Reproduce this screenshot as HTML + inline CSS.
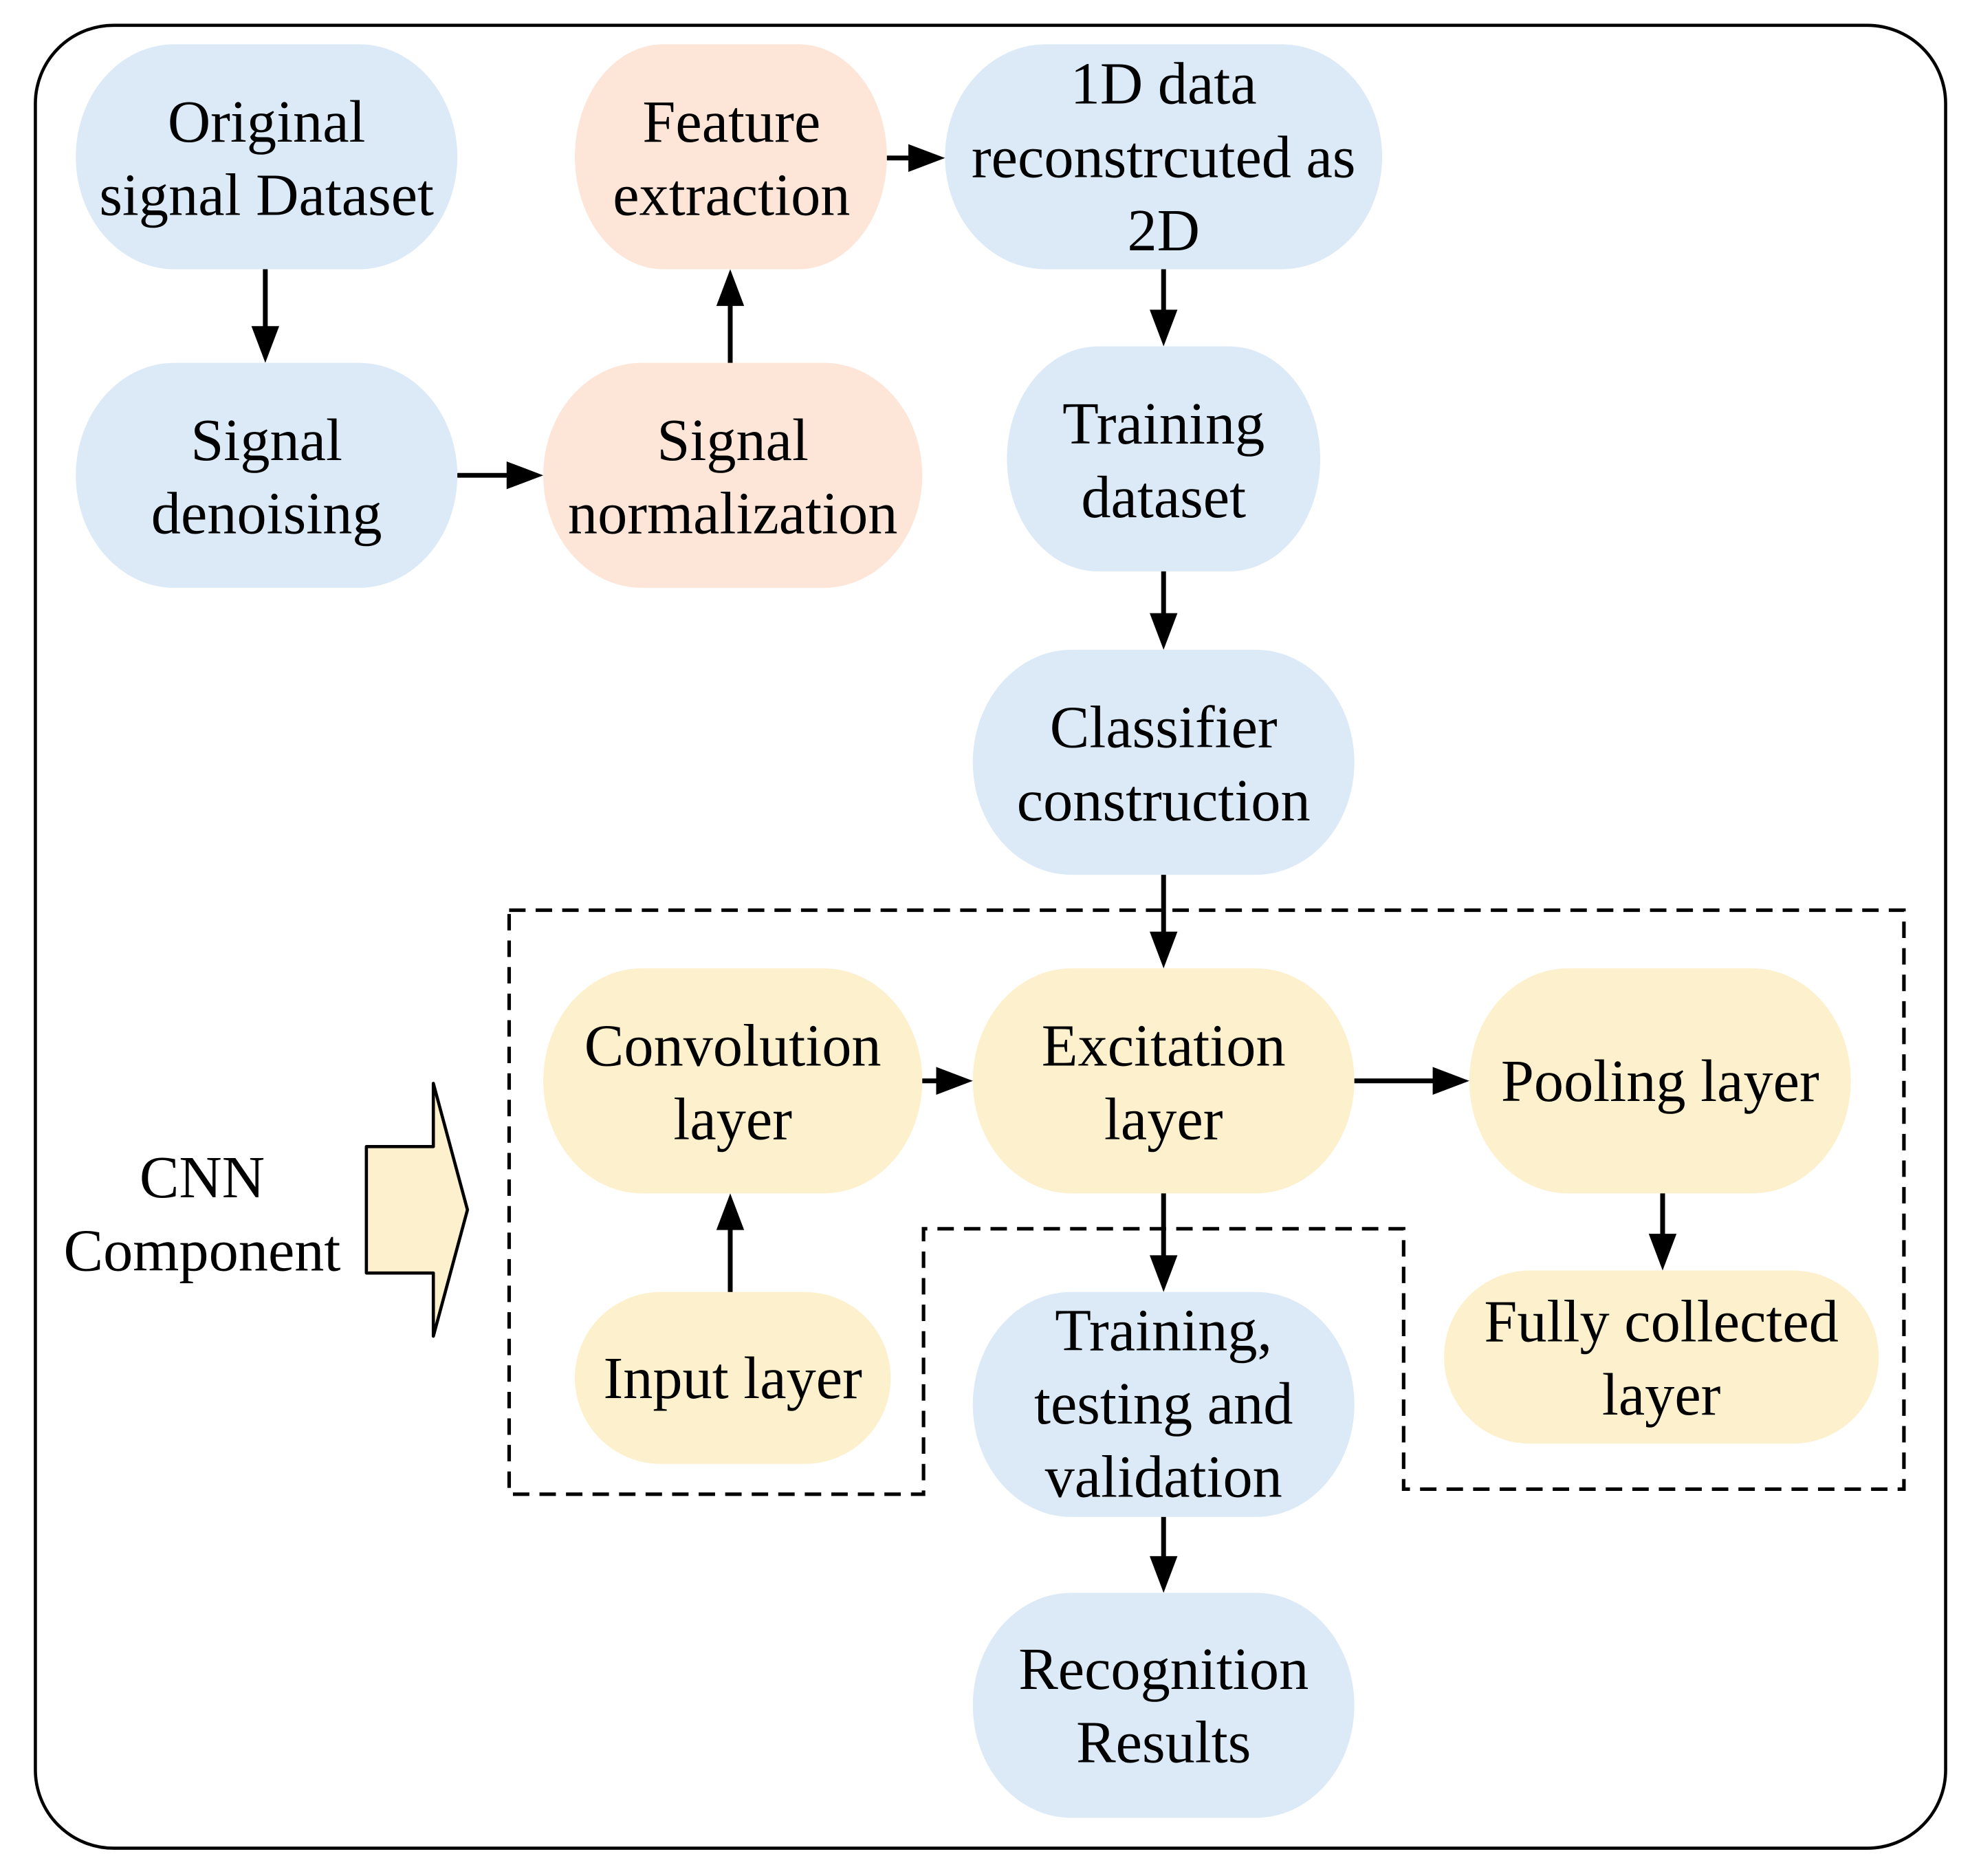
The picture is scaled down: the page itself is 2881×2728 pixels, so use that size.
<!DOCTYPE html>
<html><head><meta charset="utf-8"><style>
html,body{margin:0;padding:0;background:#fff;}
svg{display:block;}
text{font-family:"Liberation Serif",serif;font-size:47px;fill:#000;text-anchor:middle;}
</style></head><body>
<svg width="2881" height="2728" viewBox="0 0 1568 1484" preserveAspectRatio="none" xmlns="http://www.w3.org/2000/svg">
<rect x="28" y="20" width="1512" height="1442" rx="62" ry="62" fill="#fff" stroke="#000" stroke-width="2.5"/>

<path d="M403,720 H1507 V1178 H1111 V972 H731 V1182 H403 Z" fill="none" stroke="#000" stroke-width="2.8" stroke-dasharray="13,8"/>

<g>
<rect x="60" y="35" width="302" height="178" rx="78" ry="89" fill="#dbeaf6"/>
<rect x="60" y="287" width="302" height="178" rx="78" ry="89" fill="#dbeaf6"/>
<rect x="455" y="35" width="247" height="178" rx="70" ry="89" fill="#fde5d8"/>
<rect x="430" y="287" width="300" height="178" rx="78" ry="89" fill="#fde5d8"/>
<rect x="748" y="35" width="346" height="178" rx="80" ry="89" fill="#dbeaf6"/>
<rect x="797" y="274" width="248" height="178" rx="72" ry="89" fill="#dbeaf6"/>
<rect x="770" y="514" width="302" height="178" rx="78" ry="89" fill="#dbeaf6"/>
<rect x="430" y="766" width="300" height="178" rx="78" ry="89" fill="#fdf0cc"/>
<rect x="770" y="766" width="302" height="178" rx="78" ry="89" fill="#fdf0cc"/>
<rect x="1163" y="766" width="302" height="178" rx="78" ry="89" fill="#fdf0cc"/>
<rect x="455" y="1022" width="250" height="136" rx="68" ry="68" fill="#fdf0cc"/>
<rect x="770" y="1022" width="302" height="178" rx="78" ry="89" fill="#dbeaf6"/>
<rect x="1143" y="1005" width="344" height="137" rx="68" ry="68" fill="#fdf0cc"/>
<rect x="770" y="1260" width="302" height="178" rx="78" ry="89" fill="#dbeaf6"/>
</g>

<g stroke="#000" stroke-width="3.8" fill="#000">
<line x1="210" y1="213" x2="210" y2="262"/><polygon points="199,258 221,258 210,287" stroke="none"/>
<line x1="362" y1="376" x2="405" y2="376"/><polygon points="401,365 401,387 430,376" stroke="none"/>
<line x1="578" y1="287" x2="578" y2="238"/><polygon points="567,242 589,242 578,213" stroke="none"/>
<line x1="702" y1="125" x2="723" y2="125"/><polygon points="719,114 719,136 748,125" stroke="none"/>
<line x1="921" y1="213" x2="921" y2="249"/><polygon points="910,245 932,245 921,274" stroke="none"/>
<line x1="921" y1="452" x2="921" y2="489"/><polygon points="910,485 932,485 921,514" stroke="none"/>
<line x1="921" y1="692" x2="921" y2="741"/><polygon points="910,737 932,737 921,766" stroke="none"/>
<line x1="730" y1="855" x2="745" y2="855"/><polygon points="741,844 741,866 770,855" stroke="none"/>
<line x1="1072" y1="855" x2="1138" y2="855"/><polygon points="1134,844 1134,866 1163,855" stroke="none"/>
<line x1="921" y1="944" x2="921" y2="997"/><polygon points="910,993 932,993 921,1022" stroke="none"/>
<line x1="578" y1="1022" x2="578" y2="969"/><polygon points="567,973 589,973 578,944" stroke="none"/>
<line x1="1316" y1="944" x2="1316" y2="980"/><polygon points="1305,976 1327,976 1316,1005" stroke="none"/>
<line x1="921" y1="1200" x2="921" y2="1235"/><polygon points="910,1231 932,1231 921,1260" stroke="none"/>
</g>

<polygon points="290,907 343,907 343,857 370,957 343,1057 343,1007 290,1007" fill="#fdf0cc" stroke="#000" stroke-width="2.5" stroke-linejoin="round"/>

<text x="211" y="112">Original</text>
<text x="211" y="170">signal Dataset</text>
<text x="211" y="364">Signal</text>
<text x="211" y="422">denoising</text>
<text x="579" y="112">Feature</text>
<text x="579" y="170">extraction</text>
<text x="580" y="364">Signal</text>
<text x="580" y="422">normalization</text>
<text x="921" y="82">1D data</text>
<text x="921" y="140">reconstrcuted as</text>
<text x="921" y="198">2D</text>
<text x="921" y="351">Training</text>
<text x="921" y="409">dataset</text>
<text x="921" y="591">Classifier</text>
<text x="921" y="649">construction</text>
<text x="580" y="843">Convolution</text>
<text x="580" y="901">layer</text>
<text x="921" y="843">Excitation</text>
<text x="921" y="901">layer</text>
<text x="1314" y="871">Pooling layer</text>
<text x="580" y="1106">Input layer</text>
<text x="921" y="1068">Training,</text>
<text x="921" y="1126">testing and</text>
<text x="921" y="1184">validation</text>
<text x="1315" y="1061">Fully collected</text>
<text x="1315" y="1119">layer</text>
<text x="921" y="1336">Recognition</text>
<text x="921" y="1394">Results</text>
<text x="160" y="947">CNN</text>
<text x="160" y="1005">Component</text>
</svg>
</body></html>
